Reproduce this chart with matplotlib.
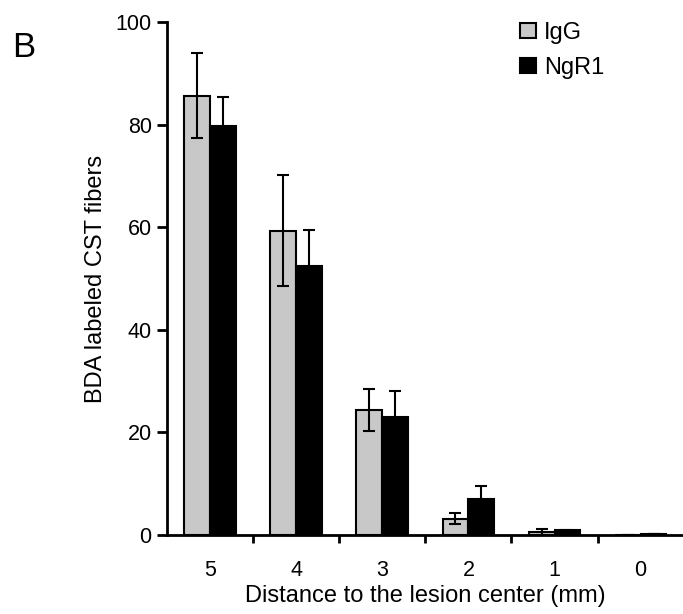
import matplotlib
matplotlib.use("Agg")
import matplotlib.pyplot as plt
import numpy as np

plt.rcParams['font.family'] = ['Liberation Sans', 'DejaVu Sans']

categories = ["5", "4", "3", "2", "1", "0"]
igg = [85.6, 59.3, 24.4, 3.2, 0.6, 0.0]
igg_err = [8.3, 10.8, 4.1, 1.0, 0.6, 0.0]
ngr1 = [79.8, 52.4, 23.0, 7.0, 0.9, 0.2]
ngr1_err = [5.5, 7.0, 5.0, 2.5, 0.1, 0.0]
yticks = [0, 20, 40, 60, 80, 100]

fig = plt.figure(figsize=(6.83, 6.14), dpi=100)
ax = fig.add_axes([0.2445, 0.1287, 0.7565, 0.8355])

x = np.arange(len(categories))
w = 0.3
ax.bar(x - w/2, igg, w, color='#c8c8c8', edgecolor='black', linewidth=1.5, label='IgG', zorder=2)
ax.bar(x + w/2, ngr1, w, color='black', edgecolor='black', linewidth=1.5, label='NgR1', zorder=2)
ax.errorbar(x - w/2, igg, yerr=igg_err, fmt='none', ecolor='black', elinewidth=1.5, capsize=4.5, capthick=1.5, zorder=3)
ax.errorbar(x + w/2, ngr1, yerr=ngr1_err, fmt='none', ecolor='black', elinewidth=1.5, capsize=4.5, capthick=1.5, zorder=3)

ax.set_xlim(-0.5, len(categories) - 0.5)
ax.set_ylim(0, 100)
ax.set_yticks(yticks)
ax.set_xticks(x)
ax.set_xticklabels(categories)
ax.set_xticks(np.arange(len(categories)) + 0.5, minor=True)
ax.tick_params(axis='x', which='major', length=0, pad=18, labelsize=15.5)
ax.tick_params(axis='x', which='minor', length=6, width=2, direction='out')
ax.tick_params(axis='y', which='major', length=7, width=2, labelsize=15.5, pad=4)

for s in ['top', 'right']:
    ax.spines[s].set_visible(False)
for s in ['left', 'bottom']:
    ax.spines[s].set_linewidth(2)

ax.set_xlabel('Distance to the lesion center (mm)', fontsize=17, labelpad=3)
ax.set_ylabel('BDA labeled CST fibers', fontsize=17, labelpad=6)

fig.text(0.034, 0.922, 'B', fontsize=25, ha='center', va='center')

ax.legend(loc='upper left', bbox_to_anchor=(0.748, 0.980), bbox_transform=fig.transFigure,
          frameon=False, fontsize=17, handlelength=0.65, handleheight=0.65,
          handletextpad=0.35, labelspacing=0.55, borderaxespad=0)

fig.savefig('out.png', dpi=100)
